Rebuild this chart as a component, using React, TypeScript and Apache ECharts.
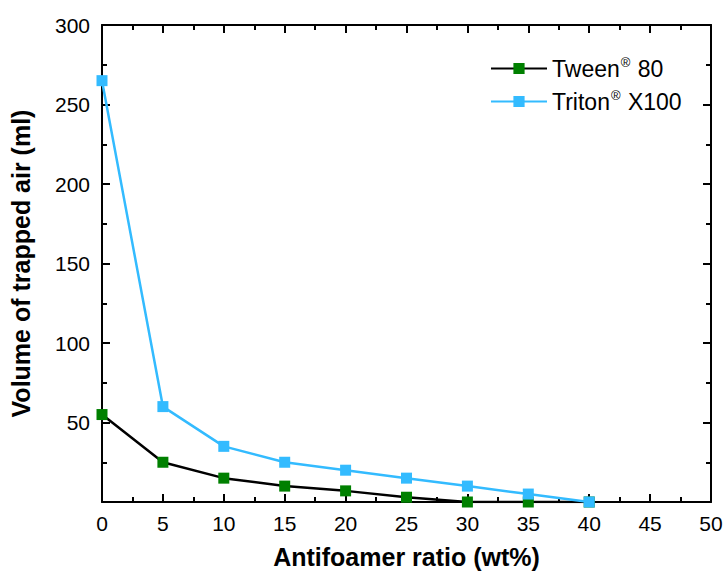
import React, { useEffect, useRef } from "react";
import * as echarts from "echarts";

// Antifoamer ratio (wt%) sampled for both surfactants
const ratios = [0, 5, 10, 15, 20, 25, 30, 35, 40];
// Volume of trapped air (ml)
const tweenValues = [55, 25, 15, 10, 7, 3, 0, 0, 0];
const tritonValues = [265, 60, 35, 25, 20, 15, 10, 5, 0];

const xTicks = [0, 5, 10, 15, 20, 25, 30, 35, 40, 45, 50];
const yTicks = [0, 50, 100, 150, 200, 250, 300];

const FONT = "Liberation Sans, Arial, sans-serif";

export default function App() {
  const ref = useRef<HTMLDivElement>(null);

  useEffect(() => {
    if (!ref.current) return;
    const chart = echarts.init(ref.current, null, { renderer: "svg" });

    const axisLine = { show: true, onZero: false, lineStyle: { color: "#000", width: 2 } };
    const tick = { show: true, inside: true, length: 8, lineStyle: { width: 2, color: "#000" } };
    const minor = { show: true, splitNumber: 2, length: 5, lineStyle: { width: 2, color: "#000" } };
    const xCommon = {
      type: "value" as const,
      min: xTicks[0],
      max: xTicks[xTicks.length - 1],
      interval: 5,
      splitLine: { show: false },
      axisLine,
      axisTick: tick,
      minorTick: minor,
    };
    const yCommon = {
      type: "value" as const,
      min: yTicks[0],
      max: yTicks[yTicks.length - 1],
      interval: 50,
      splitLine: { show: false },
      axisLine,
      axisTick: tick,
      minorTick: minor,
    };

    chart.setOption({
      animation: false,
      backgroundColor: "#fff",
      textStyle: { fontFamily: FONT },
      grid: { left: 101, right: 17, top: 25, bottom: 70, containLabel: false },
      legend: {
        left: 485,
        top: 51,
        orient: "vertical",
        itemWidth: 56,
        itemHeight: 14,
        itemGap: 9,
        textStyle: {
          fontSize: 23,
          color: "#000",
          fontFamily: FONT,
          padding: [0, 0, 0, 0],
          rich: {
            sup: { fontSize: 13, verticalAlign: "top", padding: [0, 1, 12, 1], fontFamily: FONT, color: "#000" },
            base: { fontSize: 23, fontFamily: FONT, color: "#000" },
          },
        },
        formatter: (name: string) => {
          const parts = name.split("®");
          return `{base|${parts[0]}}{sup|®}{base|${parts[1]}}`;
        },
        data: ["Tween® 80", "Triton® X100"],
      },
      xAxis: [
        {
          ...xCommon,
          position: "bottom",
          name: "Antifoamer ratio (wt%)",
          nameLocation: "middle",
          nameGap: 42,
          nameTextStyle: { fontSize: 25, fontWeight: "bold", color: "#000", fontFamily: FONT },
          axisLabel: { fontSize: 21, color: "#000", margin: 11, fontFamily: FONT },
        },
        {
          ...xCommon,
          position: "top",
          axisLabel: { show: false },
        },
      ],
      yAxis: [
        {
          ...yCommon,
          position: "left",
          name: "Volume of trapped air (ml)",
          nameLocation: "middle",
          nameGap: 69,
          nameTextStyle: { fontSize: 25, fontWeight: "bold", color: "#000", fontFamily: FONT },
          axisLabel: {
            fontSize: 21,
            color: "#000",
            margin: 12,
            fontFamily: FONT,
            formatter: (v: number) => (v === 0 ? "" : String(v)),
          },
        },
        {
          ...yCommon,
          position: "right",
          axisLabel: { show: false },
        },
      ],
      series: [
        {
          name: "Tween® 80",
          type: "line",
          data: ratios.map((r, i) => [r, tweenValues[i]]),
          symbol: "rect",
          symbolSize: 11,
          lineStyle: { color: "#000", width: 2.5 },
          itemStyle: { color: "#008000" },
          z: 2,
        },
        {
          name: "Triton® X100",
          type: "line",
          data: ratios.map((r, i) => [r, tritonValues[i]]),
          symbol: "rect",
          symbolSize: 11,
          lineStyle: { color: "#33bbff", width: 2.5 },
          itemStyle: { color: "#33bbff" },
          z: 3,
        },
      ],
    });

    return () => chart.dispose();
  }, []);

  return (
    <div
      ref={ref}
      style={{ position: "fixed", left: 0, top: 0, width: 728, height: 574, background: "#fff" }}
    />
  );
}
